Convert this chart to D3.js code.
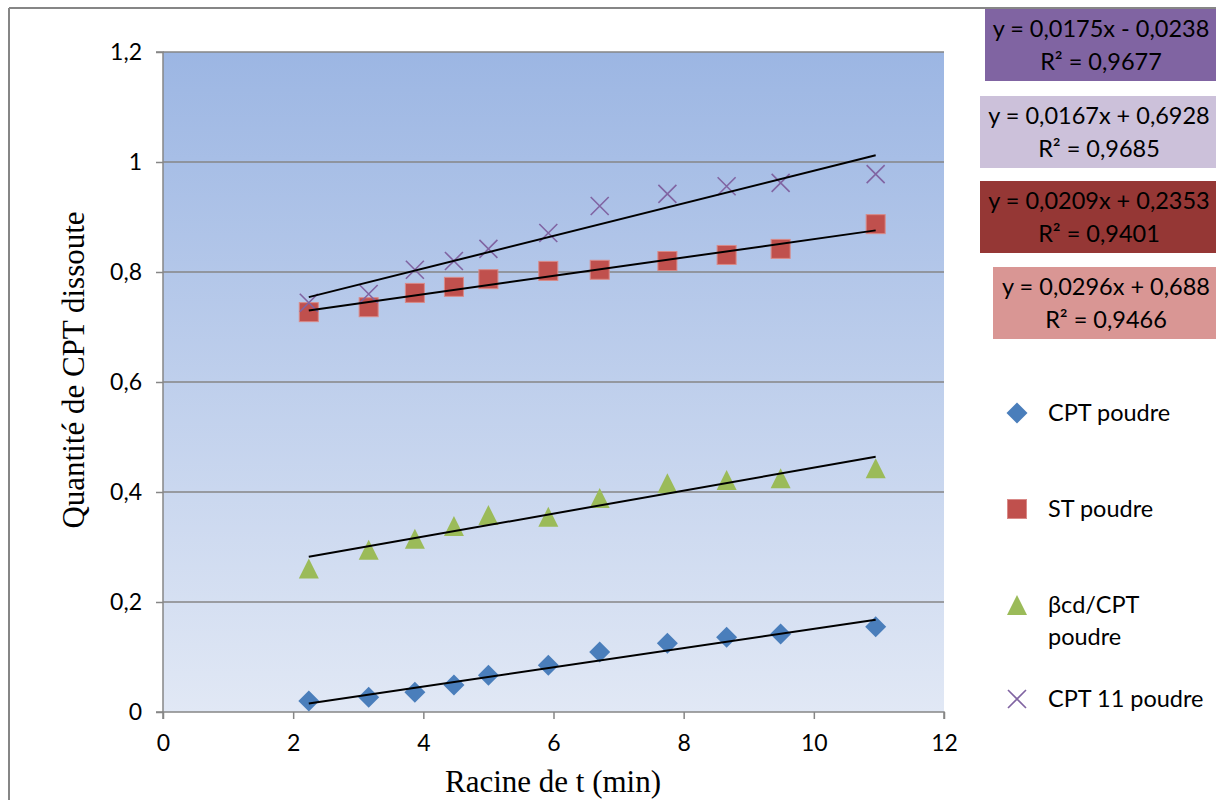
<!DOCTYPE html>
<html>
<head>
<meta charset="utf-8">
<script src="https://cdn.jsdelivr.net/npm/d3@7"></script>
<style>
  html, body { margin: 0; padding: 0; background: #fff; }
  svg { display: block; }
</style>
</head>
<body>
<svg id="chart" width="1216" height="800"></svg>
<script>
// ---- Data ----
const xValues = [2.24, 3.16, 3.87, 4.47, 5.00, 5.92, 6.71, 7.75, 8.66, 9.49, 10.95];
const cptPoudre = [0.020, 0.027, 0.036, 0.049, 0.067, 0.085, 0.109, 0.125, 0.136, 0.142, 0.155];
const stPoudre = [0.727, 0.736, 0.762, 0.773, 0.787, 0.802, 0.804, 0.820, 0.831, 0.842, 0.887];
const bcdPoudre = [0.261, 0.295, 0.315, 0.338, 0.358, 0.355, 0.389, 0.416, 0.422, 0.425, 0.443];
const cpt11Poudre = [0.744, 0.760, 0.804, 0.820, 0.842, 0.871, 0.920, 0.942, 0.956, 0.962, 0.978];
const seriesNames = ["CPT poudre", "ST poudre", "βcd/CPT poudre", "CPT 11 poudre"];
// trend lines (slope, intercept) as in the equation labels
const trendSlopes = [0.0175, 0.0167, 0.0209, 0.0296];
const trendIntercepts = [-0.0238, 0.6928, 0.2353, 0.688];
const eqLabels = [
  ["y = 0,0175x - 0,0238", "R² = 0,9677"],
  ["y = 0,0167x + 0,6928", "R² = 0,9685"],
  ["y = 0,0209x + 0,2353", "R² = 0,9401"],
  ["y = 0,0296x + 0,688", "R² = 0,9466"]
];
const xTicks = [0, 2, 4, 6, 8, 10, 12];
const yTicks = [0, 0.2, 0.4, 0.6, 0.8, 1.0, 1.2];
const yTickLabels = ["0", "0,2", "0,4", "0,6", "0,8", "1", "1,2"];

// ---- Layout ----
const svg = d3.select("#chart");
const plot = { left: 163, right: 944, top: 52, bottom: 712 };
const x = d3.scaleLinear().domain([0, 12]).range([plot.left, plot.right]);
const y = d3.scaleLinear().domain([0, 1.2]).range([plot.bottom, plot.top]);
const grey = "#868686";
const sansFont = "Lato, 'Open Sans', sans-serif";
const serifFont = "'Liberation Serif', 'DejaVu Serif', serif";

// outer frame
svg.append("line").attr("x1", 9).attr("x2", 9).attr("y1", 8).attr("y2", 800)
  .attr("stroke", grey).attr("stroke-width", 2);
svg.append("line").attr("x1", 9).attr("x2", 1216).attr("y1", 8).attr("y2", 8)
  .attr("stroke", grey).attr("stroke-width", 2);

// gradient background
const defs = svg.append("defs");
const grad = defs.append("linearGradient").attr("id", "bg").attr("x1", 0).attr("y1", 0).attr("x2", 0).attr("y2", 1);
grad.append("stop").attr("offset", "0%").attr("stop-color", "#9cb6e3");
grad.append("stop").attr("offset", "100%").attr("stop-color", "#e1e8f5");
svg.append("rect").attr("x", plot.left).attr("y", plot.top)
  .attr("width", plot.right - plot.left).attr("height", plot.bottom - plot.top)
  .attr("fill", "url(#bg)");

// gridlines
svg.append("g").selectAll("line").data(yTicks.slice(1)).join("line")
  .attr("x1", plot.left).attr("x2", plot.right)
  .attr("y1", d => y(d)).attr("y2", d => y(d))
  .attr("stroke", grey).attr("stroke-width", 1.5);

// axes
const yAxis = d3.axisLeft(y).tickValues(yTicks).tickSize(7).tickPadding(14)
  .tickFormat((d, i) => yTickLabels[i]);
const gy = svg.append("g").attr("transform", `translate(${plot.left},0)`).call(yAxis);
const xAxis = d3.axisBottom(x).tickValues(xTicks).tickSize(7).tickPadding(16)
  .tickFormat(d => String(d));
const gx = svg.append("g").attr("transform", `translate(0,${plot.bottom})`).call(xAxis);
[gx, gy].forEach(g => {
  g.select(".domain").attr("stroke", grey).attr("stroke-width", 1.5);
  g.selectAll(".tick line").attr("stroke", grey).attr("stroke-width", 1.5);
  g.selectAll(".tick text").attr("font-family", sansFont).attr("font-size", 23).attr("fill", "#000");
});
gx.select(".domain").attr("d", `M${plot.left},7V0H${plot.right}V7`);
gy.select(".domain").attr("d", `M-7,${plot.top}H0V${plot.bottom}H-7`);

// axis titles
svg.append("text").attr("x", 553).attr("y", 792).attr("text-anchor", "middle")
  .attr("font-family", serifFont).attr("font-size", 31).text("Racine de t (min)");
svg.append("text").attr("transform", "translate(84,370) rotate(-90)").attr("text-anchor", "middle")
  .attr("font-family", serifFont).attr("font-size", 31).text("Quantité de CPT dissoute");

// markers
const colors = ["#4a7ebb", "#c0504d", "#9bbb59", "#8064a2"];
const allSeries = [cptPoudre, stPoudre, bcdPoudre, cpt11Poudre];
function drawMarker(g, type, cx, cy) {
  if (type === 0) {
    g.append("path").attr("d", `M${cx},${cy - 10.5}L${cx + 10.5},${cy}L${cx},${cy + 10.5}L${cx - 10.5},${cy}Z`)
      .attr("fill", colors[0]);
  } else if (type === 1) {
    g.append("rect").attr("x", cx - 9.5).attr("y", cy - 9.5).attr("width", 19).attr("height", 19)
      .attr("fill", colors[1]).attr("stroke", "#d98a88").attr("stroke-width", 1);
  } else if (type === 2) {
    g.append("path").attr("d", `M${cx},${cy - 10}L${cx + 10},${cy + 10}L${cx - 10},${cy + 10}Z`)
      .attr("fill", colors[2]);
  } else {
    g.append("path").attr("d", `M${cx - 9},${cy - 9}L${cx + 9},${cy + 9}M${cx + 9},${cy - 9}L${cx - 9},${cy + 9}`)
      .attr("stroke", colors[3]).attr("stroke-width", 1.6).attr("fill", "none");
  }
}
const gm = svg.append("g");
allSeries.forEach((vals, si) => {
  vals.forEach((v, i) => drawMarker(gm, si, x(xValues[i]), y(v)));
});

// trend lines
const xmin = d3.min(xValues), xmax = d3.max(xValues);
const gt = svg.append("g");
trendSlopes.forEach((m, i) => {
  const b = trendIntercepts[i];
  gt.append("line")
    .attr("x1", x(xmin)).attr("y1", y(m * xmin + b))
    .attr("x2", x(xmax)).attr("y2", y(m * xmax + b))
    .attr("stroke", "#000").attr("stroke-width", 2);
});

// equation boxes
const boxes = [
  { x: 985, y: 9, w: 231, h: 72, fill: "#8064a2", cx: 1101 },
  { x: 980, y: 96, w: 236, h: 72, fill: "#ccc1da", cx: 1099 },
  { x: 980, y: 181, w: 236, h: 72, fill: "#953735", cx: 1099 },
  { x: 993, y: 267, w: 223, h: 72, fill: "#d99694", cx: 1106 }
];
const gb = svg.append("g");
boxes.forEach((bx, i) => {
  gb.append("rect").attr("x", bx.x).attr("y", bx.y).attr("width", bx.w).attr("height", bx.h).attr("fill", bx.fill);
  gb.append("text").attr("x", bx.cx).attr("y", bx.y + 28).attr("text-anchor", "middle")
    .attr("font-family", sansFont).attr("font-size", 23.5).text(eqLabels[i][0]);
  gb.append("text").attr("x", bx.cx).attr("y", bx.y + 61).attr("text-anchor", "middle")
    .attr("font-family", sansFont).attr("font-size", 23.5).text(eqLabels[i][1]);
});

// legend
const legendY = [413, 509, 605, 699];
const gl = svg.append("g");
seriesNames.forEach((name, i) => {
  drawMarker(gl, i, 1017, legendY[i]);
  const t = gl.append("text").attr("x", 1048).attr("y", legendY[i] + 8)
    .attr("font-family", sansFont).attr("font-size", 23.5);
  if (i === 2) {
    t.append("tspan").attr("x", 1048).text("βcd/CPT");
    t.append("tspan").attr("x", 1048).attr("dy", 32).text("poudre");
  } else {
    t.text(name);
  }
});
</script>
</body>
</html>
